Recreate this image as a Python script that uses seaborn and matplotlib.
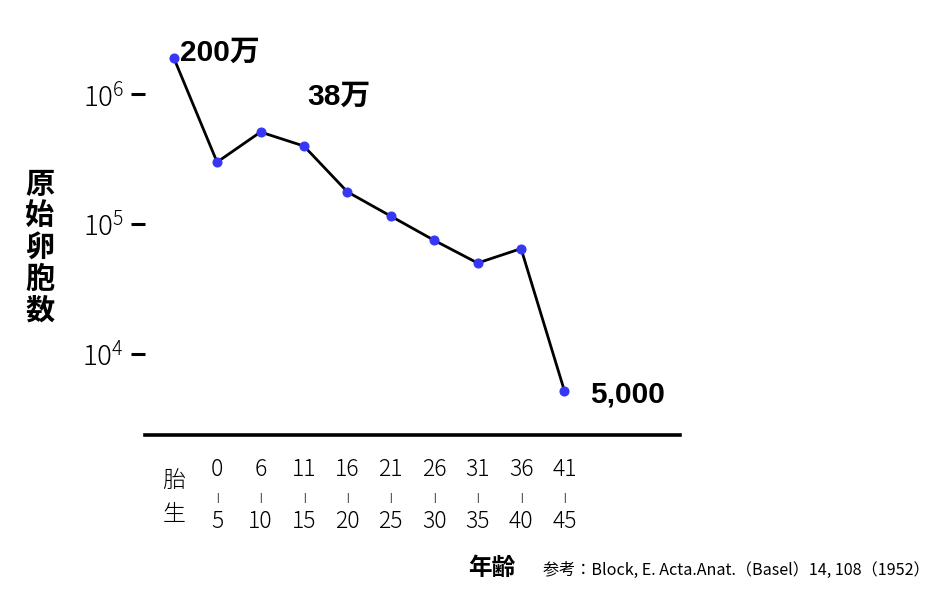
import numpy as np
import pandas as pd
import matplotlib
matplotlib.use("Agg")
import matplotlib.pyplot as plt
import seaborn as sns

# data
age_top = ["胎", "0", "6", "11", "16", "21", "26", "31", "36", "41"]
age_bottom = ["生", "5", "10", "15", "20", "25", "30", "35", "40", "45"]
follicles = [1920000, 300000, 512000, 399000, 177000, 115000, 74800, 50000, 64600, 5150]
notes = {0: "200万", 3: "38万", 9: "5,000"}

sns.set_style("white")
plt.rcParams["font.family"] = ["Noto Sans CJK JP", "DejaVu Sans"]
plt.rcParams["text.color"] = "black"
plt.rcParams["xtick.color"] = "black"
plt.rcParams["ytick.color"] = "black"

df = pd.DataFrame({"pos": np.arange(len(follicles)), "count": follicles})

fig = plt.figure(figsize=(9.49, 5.9), dpi=100)
W, H = 949, 590
ax = fig.add_axes([145 / W, 155 / H, (680 - 145) / W, (435 - 30) / H])

sns.lineplot(data=df, x="pos", y="count", ax=ax, color="black", linewidth=2.0,
             marker="o", markersize=6.5, markerfacecolor="#3636f4",
             markeredgecolor="#3636f4", zorder=3)
ax.set_yscale("log")
ax.set_ylim(10 ** 3.373, 10 ** 6.496)
ax.set_xlim(-0.66, 11.66)

for s in ["top", "right", "left"]:
    ax.spines[s].set_visible(False)
ax.spines["bottom"].set_linewidth(2.6)
ax.spines["bottom"].set_color("black")

ax.set_yticks([1e4, 1e5, 1e6])
ax.set_yticklabels([r"$\mathregular{10^{4}}$", r"$\mathregular{10^{5}}$", r"$\mathregular{10^{6}}$"],
                   fontsize=20, fontweight="light")
ax.yaxis.set_minor_locator(matplotlib.ticker.NullLocator())
ax.tick_params(axis="y", direction="out", length=10, width=2.2, color="black", pad=5, left=True)
ax.set_xticks([])
ax.set_xlabel("")
ax.set_ylabel("")

# two-row age labels
for i in range(len(age_top)):
    if i == 0:
        ax.annotate(age_top[i], xy=(i, 0), xycoords=("data", "axes fraction"),
                    xytext=(0, -32.4), textcoords="offset points", ha="center", va="center",
                    fontsize=16.5, fontweight="light")
        ax.annotate(age_bottom[i], xy=(i, 0), xycoords=("data", "axes fraction"),
                    xytext=(0, -57.6), textcoords="offset points", ha="center", va="center",
                    fontsize=16.5, fontweight="light")
    else:
        ax.annotate(age_top[i], xy=(i, 0), xycoords=("data", "axes fraction"),
                    xytext=(0, -25.2), textcoords="offset points", ha="center", va="center",
                    fontsize=16.5, fontweight="light")
        ax.annotate("|", xy=(i, 0), xycoords=("data", "axes fraction"),
                    xytext=(0, -45.6), textcoords="offset points", ha="center", va="center",
                    fontsize=6, fontweight="bold")
        ax.annotate(age_bottom[i], xy=(i, 0), xycoords=("data", "axes fraction"),
                    xytext=(0, -62.6), textcoords="offset points", ha="center", va="center",
                    fontsize=16.5, fontweight="light")

# value notes
offsets = {0: (4.8, 3.4), 3: (2.2, 35.6), 9: (18.5, -2.2)}
for i, txt in notes.items():
    ax.annotate(txt, xy=(i, follicles[i]), xytext=offsets[i], textcoords="offset points",
                ha="left", va="center", fontsize=21.5, fontweight="bold",
                family=["Liberation Sans", "Noto Sans CJK JP"])

fig.text(40 / W, 1 - 247 / H, "原\n始\n卵\n胞\n数", ha="center", va="center",
         fontsize=21, fontweight="bold", linespacing=1.07)
fig.text(492 / W, 1 - 568 / H, "年齢", ha="center", va="center", fontsize=17, fontweight="bold")
fig.text(543 / W, 1 - 570 / H, "参考：Block, E. Acta.Anat.（Basel）14, 108（1952）",
         ha="left", va="center", fontsize=11.6)

fig.savefig("out.png", dpi=100)
